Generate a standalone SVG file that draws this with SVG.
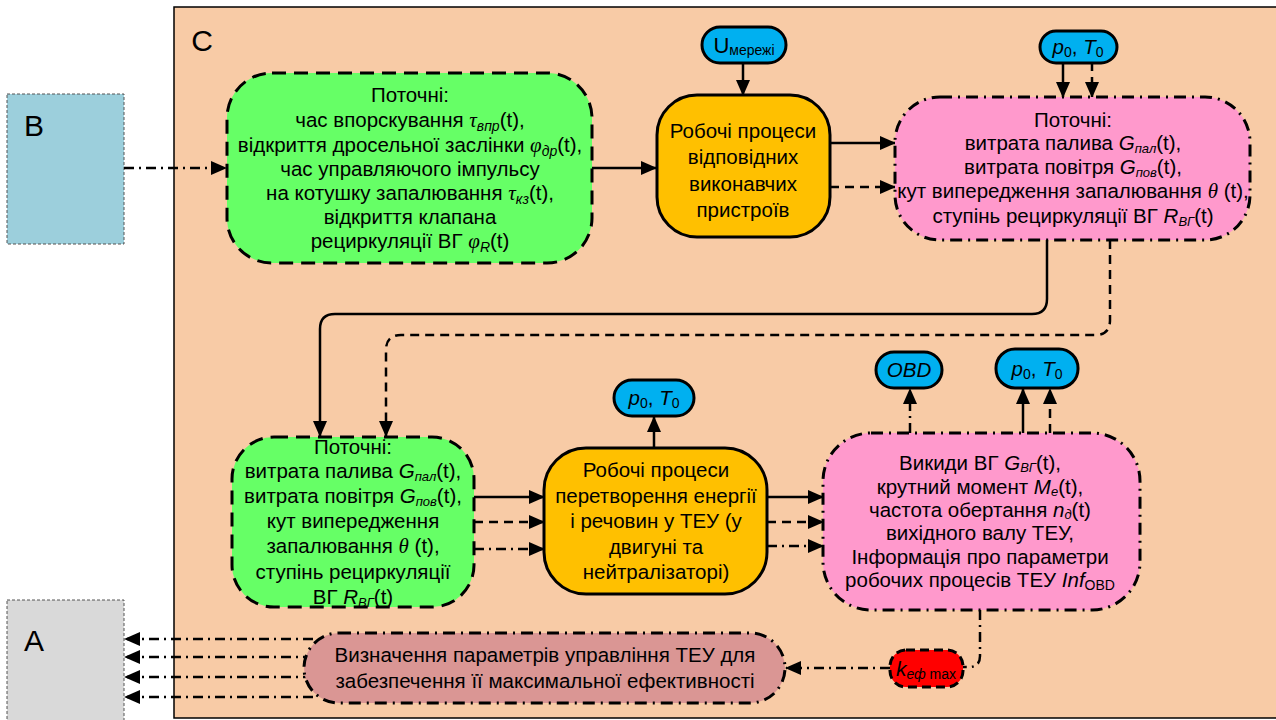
<svg xmlns="http://www.w3.org/2000/svg" width="1276" height="720" viewBox="0 0 1276 720">
<defs>
<marker id="ah" markerUnits="userSpaceOnUse" markerWidth="16" markerHeight="14" refX="15" refY="7" orient="auto">
<path d="M0,0 L16,7 L0,14 Z" fill="#000"/>
</marker>
<style>
text{font-family:"Liberation Sans",Arial,sans-serif;font-size:20.5px;fill:#000;text-anchor:middle}
.it{font-style:italic}
.gr{font-family:"Liberation Serif","Times New Roman",serif;font-style:italic;font-size:21px}
.sb{font-size:14px;font-style:italic}
.sb2{font-size:13px;font-style:italic}
.su{font-size:14px}
.solid{stroke:#000;stroke-width:2.5;fill:none}
.dash{stroke:#000;stroke-width:2.5;fill:none;stroke-dasharray:9 6}
.dd{stroke:#000;stroke-width:2.5;fill:none;stroke-dasharray:10 5 2 5}
.bdash{stroke:#000;stroke-width:3;stroke-dasharray:14 8}
.bdd{stroke:#000;stroke-width:3;stroke-dasharray:12 6 2 6}
.bsolid{stroke:#000;stroke-width:3}
</style>
</defs>
<rect width="1276" height="720" fill="#fff"/>
<g id="C">
<rect x="174" y="7" width="1120" height="711" fill="#f8cba6" stroke="#000" stroke-width="1.5"/>
<text x="202" y="51" style="font-size:30px">C</text>
</g>
<g id="B">
<rect x="7" y="94" width="117" height="150" fill="#9ccfdc" stroke="#555" stroke-width="1" stroke-dasharray="3 2"/>
<text x="34" y="136" style="font-size:30px">B</text>
</g>
<g id="A">
<rect x="7" y="600" width="117" height="130" fill="#d9d9d9" stroke="#555" stroke-width="1" stroke-dasharray="3 2"/>
<text x="34" y="651" style="font-size:30px">A</text>
</g>
<g id="connectors">
<line class="dd" x1="124" y1="168" x2="226" y2="168" marker-end="url(#ah)"/>
<line class="solid" x1="592" y1="168" x2="656" y2="168" marker-end="url(#ah)"/>
<line class="solid" x1="743" y1="63" x2="743" y2="95" marker-end="url(#ah)"/>
<line class="solid" x1="830" y1="143" x2="895" y2="143" marker-end="url(#ah)"/>
<line class="dash" x1="830" y1="187" x2="895" y2="187" marker-end="url(#ah)"/>
<line class="solid" x1="1063" y1="62" x2="1063" y2="97" marker-end="url(#ah)"/>
<line class="dash" x1="1092" y1="62" x2="1092" y2="97" marker-end="url(#ah)"/>
<path class="solid" d="M1047,240 V299 Q1047,314 1032,314 H335 Q320,314 320,329 V436" marker-end="url(#ah)"/>
<path class="dash" d="M1110,240 V320 Q1110,335 1095,335 H401 Q386,335 386,350 V436" marker-end="url(#ah)"/>
<line class="solid" x1="474" y1="497" x2="544" y2="497" marker-end="url(#ah)"/>
<line class="dash" x1="474" y1="522" x2="544" y2="522" marker-end="url(#ah)"/>
<path class="dd" d="M474,549 H544" marker-end="url(#ah)"/>
<line class="solid" x1="654" y1="448" x2="654" y2="417" marker-end="url(#ah)"/>
<line class="solid" x1="767" y1="497" x2="823" y2="497" marker-end="url(#ah)"/>
<line class="dash" x1="767" y1="522" x2="823" y2="522" marker-end="url(#ah)"/>
<line class="dd" x1="767" y1="546" x2="823" y2="546" marker-end="url(#ah)"/>
<line class="dd" x1="910" y1="433" x2="910" y2="389" marker-end="url(#ah)"/>
<line class="solid" x1="1023" y1="433" x2="1023" y2="389" marker-end="url(#ah)"/>
<line class="dash" x1="1050" y1="433" x2="1050" y2="389" marker-end="url(#ah)"/>
<path class="dd" d="M980,610 V656 Q980,667 969,667 H963"/>
<line class="dd" x1="890" y1="668" x2="786" y2="668" marker-end="url(#ah)"/>
<line class="dd" x1="313" y1="639" x2="125" y2="639" marker-end="url(#ah)"/>
<line class="dd" x1="313" y1="657" x2="125" y2="657" marker-end="url(#ah)"/>
<line class="dd" x1="313" y1="677" x2="125" y2="677" marker-end="url(#ah)"/>
<line class="dd" x1="313" y1="697" x2="125" y2="697" marker-end="url(#ah)"/>
</g>
<g id="green1">
<rect x="227" y="73" width="365" height="190" rx="45" fill="#66ff66" class="bdash"/>
<text x="410" y="102">Поточні:</text>
<text x="410" y="127">час впорскування <tspan class="gr">τ</tspan><tspan class="sb" dy="4">впр</tspan><tspan dy="-4">(t),</tspan></text>
<text x="410" y="152">відкриття дросельної заслінки <tspan class="gr">φ</tspan><tspan class="sb" dy="4">др</tspan><tspan dy="-4">(t),</tspan></text>
<text x="410" y="176">час управляючого імпульсу</text>
<text x="410" y="200">на котушку запалювання <tspan class="gr">τ</tspan><tspan class="sb" dy="4">кз</tspan><tspan dy="-4">(t),</tspan></text>
<text x="410" y="224">відкриття клапана</text>
<text x="410" y="248">рециркуляції ВГ <tspan class="gr">φ</tspan><tspan class="sb" dy="4">R</tspan><tspan dy="-4">(t)</tspan></text>
</g>
<g id="orange1">
<rect x="657" y="95" width="173" height="142" rx="40" fill="#ffc000" class="bsolid"/>
<text x="743" y="138">Робочі процеси</text>
<text x="743" y="164">відповідних</text>
<text x="743" y="191">виконавчих</text>
<text x="743" y="217">пристроїв</text>
</g>
<g id="umerezhi">
<rect x="702" y="27" width="84" height="36" rx="18" fill="#00b0f0" class="bsolid"/>
<text x="744" y="53" style="font-size:22px">U<tspan class="su" dy="2">мережі</tspan></text>
</g>
<g id="p0T0top">
<rect x="1040" y="31" width="77" height="32" rx="16" fill="#00b0f0" class="bsolid"/>
<text x="1078" y="54"><tspan class="it">p</tspan><tspan class="su" dy="3">0</tspan><tspan dy="-3">, </tspan><tspan class="it">T</tspan><tspan class="su" dy="3">0</tspan></text>
</g>
<g id="pink1">
<rect x="895" y="97" width="355" height="143" rx="45" fill="#ff99cc" class="bdd"/>
<text x="1073" y="127">Поточні:</text>
<text x="1073" y="150">витрата палива <tspan class="it">G</tspan><tspan class="sb2" dy="3">пал</tspan><tspan dy="-3">(t),</tspan></text>
<text x="1073" y="174">витрата повітря <tspan class="it">G</tspan><tspan class="sb2" dy="3">пов</tspan><tspan dy="-3">(t),</tspan></text>
<text x="1073" y="198">кут випередження запалювання <tspan class="gr">θ</tspan> (t),</text>
<text x="1073" y="223">ступінь рециркуляції ВГ <tspan class="it">R</tspan><tspan class="sb2" dy="3">ВГ</tspan><tspan dy="-3">(t)</tspan></text>
</g>
<g id="green2">
<rect x="232" y="437" width="242" height="170" rx="42" fill="#66ff66" class="bdash"/>
<text x="353" y="454">Поточні:</text>
<text x="353" y="478">витрата палива <tspan class="it">G</tspan><tspan class="sb2" dy="3">пал</tspan><tspan dy="-3">(t),</tspan></text>
<text x="353" y="503">витрата повітря <tspan class="it">G</tspan><tspan class="sb2" dy="3">пов</tspan><tspan dy="-3">(t),</tspan></text>
<text x="353" y="528">кут випередження</text>
<text x="353" y="553">запалювання <tspan class="gr">θ</tspan> (t),</text>
<text x="353" y="579">ступінь рециркуляції</text>
<text x="353" y="604">ВГ <tspan class="it">R</tspan><tspan class="sb2" dy="3">ВГ</tspan><tspan dy="-3">(t)</tspan></text>
</g>
<g id="orange2">
<rect x="544" y="448" width="223" height="146" rx="42" fill="#ffc000" class="bsolid"/>
<text x="656" y="477">Робочі процеси</text>
<text x="656" y="503">перетворення енергії</text>
<text x="656" y="528">і речовин у ТЕУ (у</text>
<text x="656" y="554">двигуні та</text>
<text x="656" y="579">нейтралізаторі)</text>
</g>
<g id="p0T0mid">
<rect x="614" y="380" width="80" height="36" rx="18" fill="#00b0f0" class="bsolid"/>
<text x="654" y="405"><tspan class="it">p</tspan><tspan class="su" dy="3">0</tspan><tspan dy="-3">, </tspan><tspan class="it">T</tspan><tspan class="su" dy="3">0</tspan></text>
</g>
<g id="OBD">
<rect x="876" y="352" width="66" height="36" rx="18" fill="#00b0f0" class="bsolid"/>
<text x="909" y="377" class="it">OBD</text>
</g>
<g id="p0T0right">
<rect x="996" y="349" width="82" height="39" rx="19" fill="#00b0f0" class="bsolid"/>
<text x="1037" y="376"><tspan class="it">p</tspan><tspan class="su" dy="3">0</tspan><tspan dy="-3">, </tspan><tspan class="it">T</tspan><tspan class="su" dy="3">0</tspan></text>
</g>
<g id="pink2">
<rect x="823" y="433" width="317" height="177" rx="48" fill="#ff99cc" class="bdd"/>
<text x="980" y="470">Викиди ВГ <tspan class="it">G</tspan><tspan class="sb2" dy="2">ВГ</tspan><tspan dy="-2">(t),</tspan></text>
<text x="980" y="494">крутний момент <tspan class="it">M</tspan><tspan class="sb2" dy="2">e</tspan><tspan dy="-2">(t),</tspan></text>
<text x="980" y="517">частота обертання <tspan class="it">n</tspan><tspan class="sb2" dy="2">д</tspan><tspan dy="-2">(t)</tspan></text>
<text x="980" y="540">вихідного валу ТЕУ,</text>
<text x="980" y="564">Інформація про параметри</text>
<text x="980" y="587">робочих процесів ТЕУ <tspan class="it">Inf</tspan><tspan class="su" dy="3">OBD</tspan></text>
</g>
<g id="keff">
<rect x="890" y="650" width="73" height="37" rx="16" fill="#ff0000" class="bdash" style="stroke-dasharray:9 5"/>
<text x="926" y="676"><tspan class="it" style="font-size:21px">k</tspan><tspan class="sb" dy="3">еф</tspan><tspan class="su"> max</tspan></text>
</g>
<g id="brown">
<rect x="304" y="633" width="481" height="70" rx="35" fill="#da9694" class="bdd"/>
<text x="545" y="662">Визначення параметрів управління ТЕУ для</text>
<text x="545" y="688">забезпечення її максимальної ефективності</text>
</g>
</svg>
